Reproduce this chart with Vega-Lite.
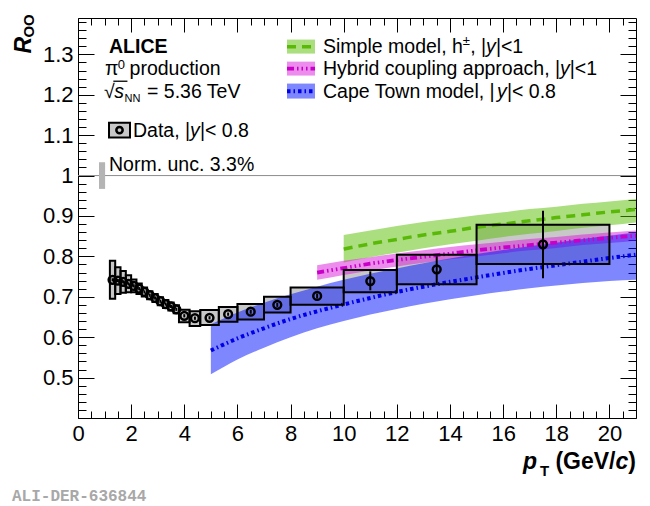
{
  "$schema": "https://vega.github.io/schema/vega-lite/v6.json",
  "width": 558,
  "height": 400,
  "autosize": {"type": "none"},
  "padding": {"left": 78, "top": 18, "right": 14, "bottom": 88},
  "background": "white",
  "config": {
    "font": "Liberation Sans",
    "view": {"stroke": "black", "strokeWidth": 1},
    "axis": {"labelFont": "Liberation Sans"}
  },
  "resolve": {"axis": {"x": "independent", "y": "independent"}},
  "datasets": {
    "pts": [
      {"lo": 1.2, "hi": 1.4, "pt": 1.3, "R": 0.742, "sysLo": 0.695, "sysHi": 0.789, "statLo": 0.738, "statHi": 0.746},
      {"lo": 1.4, "hi": 1.6, "pt": 1.5, "R": 0.740, "sysLo": 0.707, "sysHi": 0.773, "statLo": 0.736, "statHi": 0.744},
      {"lo": 1.6, "hi": 1.8, "pt": 1.7, "R": 0.737, "sysLo": 0.710, "sysHi": 0.764, "statLo": 0.733, "statHi": 0.741},
      {"lo": 1.8, "hi": 2.0, "pt": 1.9, "R": 0.732, "sysLo": 0.711, "sysHi": 0.753, "statLo": 0.728, "statHi": 0.736},
      {"lo": 2.0, "hi": 2.2, "pt": 2.1, "R": 0.727, "sysLo": 0.711, "sysHi": 0.743, "statLo": 0.723, "statHi": 0.731},
      {"lo": 2.2, "hi": 2.4, "pt": 2.3, "R": 0.720, "sysLo": 0.707, "sysHi": 0.733, "statLo": 0.716, "statHi": 0.724},
      {"lo": 2.4, "hi": 2.6, "pt": 2.5, "R": 0.712, "sysLo": 0.701, "sysHi": 0.723, "statLo": 0.708, "statHi": 0.716},
      {"lo": 2.6, "hi": 2.8, "pt": 2.7, "R": 0.704, "sysLo": 0.694, "sysHi": 0.714, "statLo": 0.700, "statHi": 0.708},
      {"lo": 2.8, "hi": 3.0, "pt": 2.9, "R": 0.697, "sysLo": 0.687, "sysHi": 0.707, "statLo": 0.693, "statHi": 0.701},
      {"lo": 3.0, "hi": 3.2, "pt": 3.1, "R": 0.689, "sysLo": 0.679, "sysHi": 0.699, "statLo": 0.685, "statHi": 0.693},
      {"lo": 3.2, "hi": 3.4, "pt": 3.3, "R": 0.682, "sysLo": 0.672, "sysHi": 0.692, "statLo": 0.678, "statHi": 0.686},
      {"lo": 3.4, "hi": 3.6, "pt": 3.5, "R": 0.676, "sysLo": 0.666, "sysHi": 0.686, "statLo": 0.672, "statHi": 0.680},
      {"lo": 3.6, "hi": 3.8, "pt": 3.7, "R": 0.669, "sysLo": 0.659, "sysHi": 0.679, "statLo": 0.665, "statHi": 0.673},
      {"lo": 3.8, "hi": 4.2, "pt": 4.0, "R": 0.653, "sysLo": 0.637, "sysHi": 0.668, "statLo": 0.649, "statHi": 0.657},
      {"lo": 4.2, "hi": 4.6, "pt": 4.4, "R": 0.647, "sysLo": 0.628, "sysHi": 0.664, "statLo": 0.643, "statHi": 0.651},
      {"lo": 4.6, "hi": 5.3, "pt": 4.95, "R": 0.648, "sysLo": 0.630, "sysHi": 0.667, "statLo": 0.644, "statHi": 0.652},
      {"lo": 5.3, "hi": 6.0, "pt": 5.65, "R": 0.657, "sysLo": 0.638, "sysHi": 0.675, "statLo": 0.653, "statHi": 0.661},
      {"lo": 6.0, "hi": 7.0, "pt": 6.5, "R": 0.663, "sysLo": 0.644, "sysHi": 0.682, "statLo": 0.658, "statHi": 0.668},
      {"lo": 7.0, "hi": 8.0, "pt": 7.5, "R": 0.680, "sysLo": 0.661, "sysHi": 0.700, "statLo": 0.675, "statHi": 0.685},
      {"lo": 8.0, "hi": 10.0, "pt": 9.0, "R": 0.702, "sysLo": 0.680, "sysHi": 0.723, "statLo": 0.696, "statHi": 0.708},
      {"lo": 10.0, "hi": 12.0, "pt": 11.0, "R": 0.739, "sysLo": 0.711, "sysHi": 0.766, "statLo": 0.716, "statHi": 0.763},
      {"lo": 12.0, "hi": 15.0, "pt": 13.5, "R": 0.768, "sysLo": 0.731, "sysHi": 0.804, "statLo": 0.733, "statHi": 0.800},
      {"lo": 15.0, "hi": 20.0, "pt": 17.5, "R": 0.830, "sysLo": 0.781, "sysHi": 0.878, "statLo": 0.746, "statHi": 0.913}
    ],
    "bands": [
      {"model": "Simple", "pt": 10, "lo": 0.785, "mid": 0.818, "hi": 0.853},
      {"model": "Simple", "pt": 11, "lo": 0.798, "mid": 0.831, "hi": 0.864},
      {"model": "Simple", "pt": 12, "lo": 0.809, "mid": 0.842, "hi": 0.875},
      {"model": "Simple", "pt": 13, "lo": 0.820, "mid": 0.853, "hi": 0.885},
      {"model": "Simple", "pt": 14, "lo": 0.830, "mid": 0.862, "hi": 0.893},
      {"model": "Simple", "pt": 15, "lo": 0.839, "mid": 0.872, "hi": 0.902},
      {"model": "Simple", "pt": 16, "lo": 0.848, "mid": 0.880, "hi": 0.909},
      {"model": "Simple", "pt": 17, "lo": 0.856, "mid": 0.888, "hi": 0.917},
      {"model": "Simple", "pt": 18, "lo": 0.863, "mid": 0.896, "hi": 0.923},
      {"model": "Simple", "pt": 19, "lo": 0.871, "mid": 0.903, "hi": 0.930},
      {"model": "Simple", "pt": 20, "lo": 0.877, "mid": 0.910, "hi": 0.936},
      {"model": "Simple", "pt": 21, "lo": 0.884, "mid": 0.916, "hi": 0.942},
      {"model": "Hybrid", "pt": 9, "lo": 0.742, "mid": 0.760, "hi": 0.778},
      {"model": "Hybrid", "pt": 10, "lo": 0.754, "mid": 0.771, "hi": 0.789},
      {"model": "Hybrid", "pt": 11, "lo": 0.765, "mid": 0.782, "hi": 0.798},
      {"model": "Hybrid", "pt": 12, "lo": 0.775, "mid": 0.791, "hi": 0.807},
      {"model": "Hybrid", "pt": 13, "lo": 0.784, "mid": 0.799, "hi": 0.815},
      {"model": "Hybrid", "pt": 14, "lo": 0.793, "mid": 0.807, "hi": 0.823},
      {"model": "Hybrid", "pt": 15, "lo": 0.800, "mid": 0.815, "hi": 0.830},
      {"model": "Hybrid", "pt": 16, "lo": 0.808, "mid": 0.822, "hi": 0.836},
      {"model": "Hybrid", "pt": 17, "lo": 0.815, "mid": 0.828, "hi": 0.843},
      {"model": "Hybrid", "pt": 18, "lo": 0.821, "mid": 0.834, "hi": 0.848},
      {"model": "Hybrid", "pt": 19, "lo": 0.828, "mid": 0.840, "hi": 0.854},
      {"model": "Hybrid", "pt": 20, "lo": 0.833, "mid": 0.846, "hi": 0.859},
      {"model": "Hybrid", "pt": 21, "lo": 0.839, "mid": 0.851, "hi": 0.864},
      {"model": "Cape", "pt": 5, "lo": 0.508, "mid": 0.567, "hi": 0.632},
      {"model": "Cape", "pt": 6, "lo": 0.545, "mid": 0.597, "hi": 0.661},
      {"model": "Cape", "pt": 7, "lo": 0.574, "mid": 0.622, "hi": 0.685},
      {"model": "Cape", "pt": 8, "lo": 0.600, "mid": 0.645, "hi": 0.706},
      {"model": "Cape", "pt": 9, "lo": 0.622, "mid": 0.664, "hi": 0.725},
      {"model": "Cape", "pt": 10, "lo": 0.640, "mid": 0.681, "hi": 0.742},
      {"model": "Cape", "pt": 11, "lo": 0.656, "mid": 0.697, "hi": 0.757},
      {"model": "Cape", "pt": 12, "lo": 0.670, "mid": 0.712, "hi": 0.770},
      {"model": "Cape", "pt": 13, "lo": 0.683, "mid": 0.725, "hi": 0.783},
      {"model": "Cape", "pt": 14, "lo": 0.694, "mid": 0.737, "hi": 0.795},
      {"model": "Cape", "pt": 15, "lo": 0.704, "mid": 0.748, "hi": 0.806},
      {"model": "Cape", "pt": 16, "lo": 0.713, "mid": 0.759, "hi": 0.816},
      {"model": "Cape", "pt": 17, "lo": 0.721, "mid": 0.769, "hi": 0.825},
      {"model": "Cape", "pt": 18, "lo": 0.728, "mid": 0.778, "hi": 0.834},
      {"model": "Cape", "pt": 19, "lo": 0.734, "mid": 0.787, "hi": 0.843},
      {"model": "Cape", "pt": 20, "lo": 0.739, "mid": 0.796, "hi": 0.851},
      {"model": "Cape", "pt": 21, "lo": 0.742, "mid": 0.804, "hi": 0.859}
    ],
    "ref": [{"x1": 0, "x2": 21, "y": 1}],
    "norm": [{"x1": 0.79, "x2": 1.02, "y1": 0.967, "y2": 1.033}],
    "sqrtbar": [{"x1": 1.33, "x2": 1.86, "y": 1.2335}],
    "leg": [
      {"model": "Simple", "x1": 7.866, "x2": 8.92, "y1": 1.302, "y2": 1.3366, "ly": 1.319},
      {"model": "Hybrid", "x1": 7.866, "x2": 8.92, "y1": 1.2475, "y2": 1.282, "ly": 1.265},
      {"model": "Cape", "x1": 7.866, "x2": 8.92, "y1": 1.1906, "y2": 1.2277, "ly": 1.209}
    ],
    "legdata": [{"x1": 1.167, "x2": 1.957, "y1": 1.094, "y2": 1.131, "cx": 1.562, "cy": 1.1126}],
    "t_reg": [
      {"x": 1.016, "y": 1.25, "text": "π"},
      {"x": 1.94, "y": 1.25, "text": "production"},
      {"x": 0.979, "y": 1.1931, "text": "√"},
      {"x": 2.597, "y": 1.1931, "text": "= 5.36 TeV"},
      {"x": 2.07, "y": 1.0965, "text": "Data, |"},
      {"x": 4.588, "y": 1.0965, "text": "|< 0.8"},
      {"x": 1.167, "y": 1.0124, "text": "Norm. unc. 3.3%"},
      {"x": 9.221, "y": 1.3045, "text": "Simple model, h"},
      {"x": 14.761, "y": 1.3045, "text": ", |"},
      {"x": 15.728, "y": 1.3045, "text": "|<1"},
      {"x": 9.221, "y": 1.25, "text": "Hybrid coupling approach, |"},
      {"x": 18.507, "y": 1.25, "text": "|<1"},
      {"x": 9.221, "y": 1.1931, "text": "Cape Town model, |"},
      {"x": 16.142, "y": 1.1931, "text": "|< 0.8"}
    ],
    "t_ital": [
      {"x": 1.36, "y": 1.1931, "text": "s"},
      {"x": 4.219, "y": 1.0965, "text": "y"},
      {"x": 15.359, "y": 1.3045, "text": "y"},
      {"x": 18.14, "y": 1.25, "text": "y"},
      {"x": 15.773, "y": 1.1931, "text": "y"}
    ],
    "t_small": [
      {"x": 1.5, "y": 1.2649, "text": "0"},
      {"x": 14.482, "y": 1.3243, "text": "±"}
    ],
    "t_tiny": [{"x": 1.75, "y": 1.1832, "text": "NN"}],
    "t_bold": [{"x": 1.167, "y": 1.3045, "text": "ALICE"}],
    "t_bi": [
      {"x": 16.748, "y": 0.2748, "text": "p"},
      {"x": 20.229, "y": 0.2748, "text": "c"}
    ],
    "t_b": [
      {"x": 17.967, "y": 0.2748, "text": "(GeV/"},
      {"x": 20.711, "y": 0.2748, "text": ")"}
    ],
    "t_bsub": [{"x": 17.387, "y": 0.2574, "text": "T"}],
    "t_rotR": [{"x": -1.769, "y": 1.302, "text": "R"}],
    "t_rotOO": [{"x": -1.656, "y": 1.3416, "text": "OO"}],
    "t_mono": [{"x": -2.484, "y": 0.1955, "text": "ALI-DER-636844"}]
  },
  "layer": [
    {
      "data": {"name": "ref"},
      "mark": {"type": "rule", "color": "#8c8c8c", "strokeWidth": 1},
      "encoding": {
        "x": {"field": "x1", "type": "quantitative", "scale": {"domain": [0, 21], "nice": false, "zero": false},
          "axis": {"orient": "bottom", "values": [0, 2, 4, 6, 8, 10, 12, 14, 16, 18, 20], "ticks": false, "domain": false, "grid": false, "labelFontSize": 22, "labelPadding": 5, "labelColor": "black", "labelFlush": false, "labelOverlap": false, "title": null, "format": "d"}},
        "x2": {"field": "x2"},
        "y": {"field": "y", "type": "quantitative", "scale": {"domain": [0.4, 1.39], "nice": false, "zero": false},
          "axis": {"orient": "left", "values": [0.5, 0.6, 0.7, 0.8, 0.9, 1, 1.1, 1.2, 1.3], "ticks": false, "domain": false, "grid": false, "labelFontSize": 22, "labelPadding": 5, "labelColor": "black", "labelFlush": false, "labelOverlap": false, "title": null, "format": "~g"}}
      }
    },
    {
      "data": {"name": "norm"},
      "mark": {"type": "rect", "fill": "#b4b4b4"},
      "encoding": {
        "x": {"field": "x1", "type": "quantitative", "scale": {"domain": [0, 21], "nice": false, "zero": false},
          "axis": {"orient": "bottom", "values": [0, 2, 4, 6, 8, 10, 12, 14, 16, 18, 20], "labels": false, "domain": false, "grid": false, "tickSize": -14, "tickColor": "black", "tickWidth": 1, "title": null}},
        "x2": {"field": "x2"},
        "y": {"field": "y1", "type": "quantitative", "scale": {"domain": [0.4, 1.39], "nice": false, "zero": false},
          "axis": {"orient": "left", "values": [0.4, 0.5, 0.6, 0.7, 0.8, 0.9, 1, 1.1, 1.2, 1.3], "labels": false, "domain": false, "grid": false, "tickSize": -16, "tickColor": "black", "tickWidth": 1, "title": null}},
        "y2": {"field": "y2"}
      }
    },
    {
      "data": {"name": "pts"},
      "mark": {"type": "rect", "fill": "#c8c8c8"},
      "encoding": {
        "x": {"field": "lo", "type": "quantitative", "scale": {"domain": [0, 21], "nice": false, "zero": false},
          "axis": {"orient": "bottom", "values": [0.5, 1, 1.5, 2, 2.5, 3, 3.5, 4, 4.5, 5, 5.5, 6, 6.5, 7, 7.5, 8, 8.5, 9, 9.5, 10, 10.5, 11, 11.5, 12, 12.5, 13, 13.5, 14, 14.5, 15, 15.5, 16, 16.5, 17, 17.5, 18, 18.5, 19, 19.5, 20, 20.5], "labels": false, "domain": false, "grid": false, "tickSize": -7, "tickColor": "black", "tickWidth": 1, "title": null}},
        "x2": {"field": "hi"},
        "y": {"field": "sysLo", "type": "quantitative", "scale": {"domain": [0.4, 1.39], "nice": false, "zero": false},
          "axis": {"orient": "left", "values": [0.42, 0.44, 0.46, 0.48, 0.5, 0.52, 0.54, 0.56, 0.58, 0.6, 0.62, 0.64, 0.66, 0.68, 0.7, 0.72, 0.74, 0.76, 0.78, 0.8, 0.82, 0.84, 0.86, 0.88, 0.9, 0.92, 0.94, 0.96, 0.98, 1, 1.02, 1.04, 1.06, 1.08, 1.1, 1.12, 1.14, 1.16, 1.18, 1.2, 1.22, 1.24, 1.26, 1.28, 1.3, 1.32, 1.34, 1.36, 1.38], "labels": false, "domain": false, "grid": false, "tickSize": -8, "tickColor": "black", "tickWidth": 1, "title": null}},
        "y2": {"field": "sysHi"}
      }
    },
    {
      "data": {"name": "bands"},
      "mark": {"type": "area", "fillOpacity": 0.5, "interpolate": "monotone"},
      "encoding": {
        "x": {"field": "pt", "type": "quantitative", "scale": {"domain": [0, 21], "nice": false, "zero": false},
          "axis": {"orient": "top", "values": [0, 2, 4, 6, 8, 10, 12, 14, 16, 18, 20], "labels": false, "domain": false, "grid": false, "tickSize": -14, "tickColor": "black", "tickWidth": 1, "title": null}},
        "y": {"field": "lo", "type": "quantitative", "stack": null, "scale": {"domain": [0.4, 1.39], "nice": false, "zero": false},
          "axis": {"orient": "right", "values": [0.4, 0.5, 0.6, 0.7, 0.8, 0.9, 1, 1.1, 1.2, 1.3], "labels": false, "domain": false, "grid": false, "tickSize": -16, "tickColor": "black", "tickWidth": 1, "title": null}},
        "y2": {"field": "hi"},
        "fill": {"field": "model", "type": "nominal", "scale": {"domain": ["Simple", "Hybrid", "Cape"], "range": ["#55bd00", "#d919d9", "#0010ff"]}, "legend": null}
      }
    },
    {
      "data": {"name": "bands"},
      "mark": {"type": "line", "interpolate": "monotone"},
      "encoding": {
        "x": {"field": "pt", "type": "quantitative", "scale": {"domain": [0, 21], "nice": false, "zero": false},
          "axis": {"orient": "top", "values": [0.5, 1, 1.5, 2, 2.5, 3, 3.5, 4, 4.5, 5, 5.5, 6, 6.5, 7, 7.5, 8, 8.5, 9, 9.5, 10, 10.5, 11, 11.5, 12, 12.5, 13, 13.5, 14, 14.5, 15, 15.5, 16, 16.5, 17, 17.5, 18, 18.5, 19, 19.5, 20, 20.5], "labels": false, "domain": false, "grid": false, "tickSize": -7, "tickColor": "black", "tickWidth": 1, "title": null}},
        "y": {"field": "mid", "type": "quantitative", "scale": {"domain": [0.4, 1.39], "nice": false, "zero": false},
          "axis": {"orient": "right", "values": [0.42, 0.44, 0.46, 0.48, 0.5, 0.52, 0.54, 0.56, 0.58, 0.6, 0.62, 0.64, 0.66, 0.68, 0.7, 0.72, 0.74, 0.76, 0.78, 0.8, 0.82, 0.84, 0.86, 0.88, 0.9, 0.92, 0.94, 0.96, 0.98, 1, 1.02, 1.04, 1.06, 1.08, 1.1, 1.12, 1.14, 1.16, 1.18, 1.2, 1.22, 1.24, 1.26, 1.28, 1.3, 1.32, 1.34, 1.36, 1.38], "labels": false, "domain": false, "grid": false, "tickSize": -8, "tickColor": "black", "tickWidth": 1, "title": null}},
        "stroke": {"field": "model", "type": "nominal", "scale": {"domain": ["Simple", "Hybrid", "Cape"], "range": ["#5ab808", "#c800c8", "#0000e6"]}, "legend": null},
        "strokeDash": {"field": "model", "type": "nominal", "scale": {"domain": ["Simple", "Hybrid", "Cape"], "range": [[9, 6], [7, 3, 1.5, 3, 1.5, 3, 1.5, 3], [3.5, 3, 1.5, 3]]}, "legend": null},
        "strokeWidth": {"field": "model", "type": "nominal", "scale": {"domain": ["Simple", "Hybrid", "Cape"], "range": [3.5, 4, 3]}, "legend": null}
      }
    },
    {
      "data": {"name": "pts"},
      "mark": {"type": "rect", "fillOpacity": 0, "stroke": "black", "strokeWidth": 2},
      "encoding": {
        "x": {"field": "lo", "type": "quantitative", "scale": {"domain": [0, 21], "nice": false, "zero": false}, "axis": null},
        "x2": {"field": "hi"},
        "y": {"field": "sysLo", "type": "quantitative", "scale": {"domain": [0.4, 1.39], "nice": false, "zero": false}, "axis": null},
        "y2": {"field": "sysHi"}
      }
    },
    {
      "data": {"name": "pts"},
      "mark": {"type": "rule", "color": "black", "strokeWidth": 2},
      "encoding": {
        "x": {"field": "pt", "type": "quantitative", "scale": {"domain": [0, 21], "nice": false, "zero": false}, "axis": null},
        "y": {"field": "statLo", "type": "quantitative", "scale": {"domain": [0.4, 1.39], "nice": false, "zero": false}, "axis": null},
        "y2": {"field": "statHi"}
      }
    },
    {
      "data": {"name": "pts"},
      "mark": {"type": "point", "shape": "circle", "filled": false, "color": "black", "strokeWidth": 2.5, "size": 60, "opacity": 1},
      "encoding": {
        "x": {"field": "pt", "type": "quantitative", "scale": {"domain": [0, 21], "nice": false, "zero": false}, "axis": null},
        "y": {"field": "R", "type": "quantitative", "scale": {"domain": [0.4, 1.39], "nice": false, "zero": false}, "axis": null}
      }
    },
    {
      "data": {"name": "leg"},
      "mark": {"type": "rect", "fillOpacity": 0.5},
      "encoding": {
        "x": {"field": "x1", "type": "quantitative", "scale": {"domain": [0, 21], "nice": false, "zero": false}, "axis": null},
        "x2": {"field": "x2"},
        "y": {"field": "y1", "type": "quantitative", "scale": {"domain": [0.4, 1.39], "nice": false, "zero": false}, "axis": null},
        "y2": {"field": "y2"},
        "fill": {"field": "model", "type": "nominal", "legend": null}
      }
    },
    {
      "data": {"name": "leg"},
      "mark": {"type": "rule"},
      "encoding": {
        "x": {"field": "x1", "type": "quantitative", "scale": {"domain": [0, 21], "nice": false, "zero": false}, "axis": null},
        "x2": {"field": "x2"},
        "y": {"field": "ly", "type": "quantitative", "scale": {"domain": [0.4, 1.39], "nice": false, "zero": false}, "axis": null},
        "stroke": {"field": "model", "type": "nominal", "legend": null},
        "strokeDash": {"field": "model", "type": "nominal", "legend": null},
        "strokeWidth": {"field": "model", "type": "nominal", "legend": null}
      }
    },
    {
      "data": {"name": "legdata"},
      "mark": {"type": "rect", "fill": "#c8c8c8", "stroke": "black", "strokeWidth": 2},
      "encoding": {
        "x": {"field": "x1", "type": "quantitative", "scale": {"domain": [0, 21], "nice": false, "zero": false}, "axis": null},
        "x2": {"field": "x2"},
        "y": {"field": "y1", "type": "quantitative", "scale": {"domain": [0.4, 1.39], "nice": false, "zero": false}, "axis": null},
        "y2": {"field": "y2"}
      }
    },
    {
      "data": {"name": "legdata"},
      "mark": {"type": "point", "shape": "circle", "filled": false, "color": "black", "strokeWidth": 2.5, "size": 40, "opacity": 1},
      "encoding": {
        "x": {"field": "cx", "type": "quantitative", "scale": {"domain": [0, 21], "nice": false, "zero": false}, "axis": null},
        "y": {"field": "cy", "type": "quantitative", "scale": {"domain": [0.4, 1.39], "nice": false, "zero": false}, "axis": null}
      }
    },
    {
      "data": {"name": "sqrtbar"},
      "mark": {"type": "rule", "color": "black", "strokeWidth": 1.3},
      "encoding": {
        "x": {"field": "x1", "type": "quantitative", "scale": {"domain": [0, 21], "nice": false, "zero": false}, "axis": null},
        "x2": {"field": "x2"},
        "y": {"field": "y", "type": "quantitative", "scale": {"domain": [0.4, 1.39], "nice": false, "zero": false}, "axis": null}
      }
    },
    {
      "data": {"name": "t_reg"},
      "mark": {"type": "text", "align": "left", "baseline": "alphabetic", "fontSize": 19.5, "color": "black"},
      "encoding": {
        "x": {"field": "x", "type": "quantitative", "scale": {"domain": [0, 21], "nice": false, "zero": false}, "axis": null},
        "y": {"field": "y", "type": "quantitative", "scale": {"domain": [0.4, 1.39], "nice": false, "zero": false}, "axis": null},
        "text": {"field": "text"}
      }
    },
    {
      "data": {"name": "t_ital"},
      "mark": {"type": "text", "align": "left", "baseline": "alphabetic", "fontSize": 19.5, "fontStyle": "italic", "color": "black"},
      "encoding": {
        "x": {"field": "x", "type": "quantitative", "scale": {"domain": [0, 21], "nice": false, "zero": false}, "axis": null},
        "y": {"field": "y", "type": "quantitative", "scale": {"domain": [0.4, 1.39], "nice": false, "zero": false}, "axis": null},
        "text": {"field": "text"}
      }
    },
    {
      "data": {"name": "t_small"},
      "mark": {"type": "text", "align": "left", "baseline": "alphabetic", "fontSize": 13, "color": "black"},
      "encoding": {
        "x": {"field": "x", "type": "quantitative", "scale": {"domain": [0, 21], "nice": false, "zero": false}, "axis": null},
        "y": {"field": "y", "type": "quantitative", "scale": {"domain": [0.4, 1.39], "nice": false, "zero": false}, "axis": null},
        "text": {"field": "text"}
      }
    },
    {
      "data": {"name": "t_tiny"},
      "mark": {"type": "text", "align": "left", "baseline": "alphabetic", "fontSize": 11, "color": "black"},
      "encoding": {
        "x": {"field": "x", "type": "quantitative", "scale": {"domain": [0, 21], "nice": false, "zero": false}, "axis": null},
        "y": {"field": "y", "type": "quantitative", "scale": {"domain": [0.4, 1.39], "nice": false, "zero": false}, "axis": null},
        "text": {"field": "text"}
      }
    },
    {
      "data": {"name": "t_bold"},
      "mark": {"type": "text", "align": "left", "baseline": "alphabetic", "fontSize": 19.5, "fontWeight": "bold", "color": "black"},
      "encoding": {
        "x": {"field": "x", "type": "quantitative", "scale": {"domain": [0, 21], "nice": false, "zero": false}, "axis": null},
        "y": {"field": "y", "type": "quantitative", "scale": {"domain": [0.4, 1.39], "nice": false, "zero": false}, "axis": null},
        "text": {"field": "text"}
      }
    },
    {
      "data": {"name": "t_bi"},
      "mark": {"type": "text", "align": "left", "baseline": "alphabetic", "fontSize": 23, "fontWeight": "bold", "fontStyle": "italic", "color": "black"},
      "encoding": {
        "x": {"field": "x", "type": "quantitative", "scale": {"domain": [0, 21], "nice": false, "zero": false}, "axis": null},
        "y": {"field": "y", "type": "quantitative", "scale": {"domain": [0.4, 1.39], "nice": false, "zero": false}, "axis": null},
        "text": {"field": "text"}
      }
    },
    {
      "data": {"name": "t_b"},
      "mark": {"type": "text", "align": "left", "baseline": "alphabetic", "fontSize": 23, "fontWeight": "bold", "color": "black"},
      "encoding": {
        "x": {"field": "x", "type": "quantitative", "scale": {"domain": [0, 21], "nice": false, "zero": false}, "axis": null},
        "y": {"field": "y", "type": "quantitative", "scale": {"domain": [0.4, 1.39], "nice": false, "zero": false}, "axis": null},
        "text": {"field": "text"}
      }
    },
    {
      "data": {"name": "t_bsub"},
      "mark": {"type": "text", "align": "left", "baseline": "alphabetic", "fontSize": 15, "fontWeight": "bold", "color": "black"},
      "encoding": {
        "x": {"field": "x", "type": "quantitative", "scale": {"domain": [0, 21], "nice": false, "zero": false}, "axis": null},
        "y": {"field": "y", "type": "quantitative", "scale": {"domain": [0.4, 1.39], "nice": false, "zero": false}, "axis": null},
        "text": {"field": "text"}
      }
    },
    {
      "data": {"name": "t_rotR"},
      "mark": {"type": "text", "align": "left", "baseline": "alphabetic", "angle": 270, "fontSize": 23, "fontWeight": "bold", "fontStyle": "italic", "color": "black"},
      "encoding": {
        "x": {"field": "x", "type": "quantitative", "scale": {"domain": [0, 21], "nice": false, "zero": false}, "axis": null},
        "y": {"field": "y", "type": "quantitative", "scale": {"domain": [0.4, 1.39], "nice": false, "zero": false}, "axis": null},
        "text": {"field": "text"}
      }
    },
    {
      "data": {"name": "t_rotOO"},
      "mark": {"type": "text", "align": "left", "baseline": "alphabetic", "angle": 270, "fontSize": 15, "fontWeight": "bold", "color": "black"},
      "encoding": {
        "x": {"field": "x", "type": "quantitative", "scale": {"domain": [0, 21], "nice": false, "zero": false}, "axis": null},
        "y": {"field": "y", "type": "quantitative", "scale": {"domain": [0.4, 1.39], "nice": false, "zero": false}, "axis": null},
        "text": {"field": "text"}
      }
    },
    {
      "data": {"name": "t_mono"},
      "mark": {"type": "text", "align": "left", "baseline": "alphabetic", "font": "Liberation Mono", "fontSize": 16, "fontWeight": "bold", "color": "#a8a8a8"},
      "encoding": {
        "x": {"field": "x", "type": "quantitative", "scale": {"domain": [0, 21], "nice": false, "zero": false}, "axis": null},
        "y": {"field": "y", "type": "quantitative", "scale": {"domain": [0.4, 1.39], "nice": false, "zero": false}, "axis": null},
        "text": {"field": "text"}
      }
    }
  ]
}
